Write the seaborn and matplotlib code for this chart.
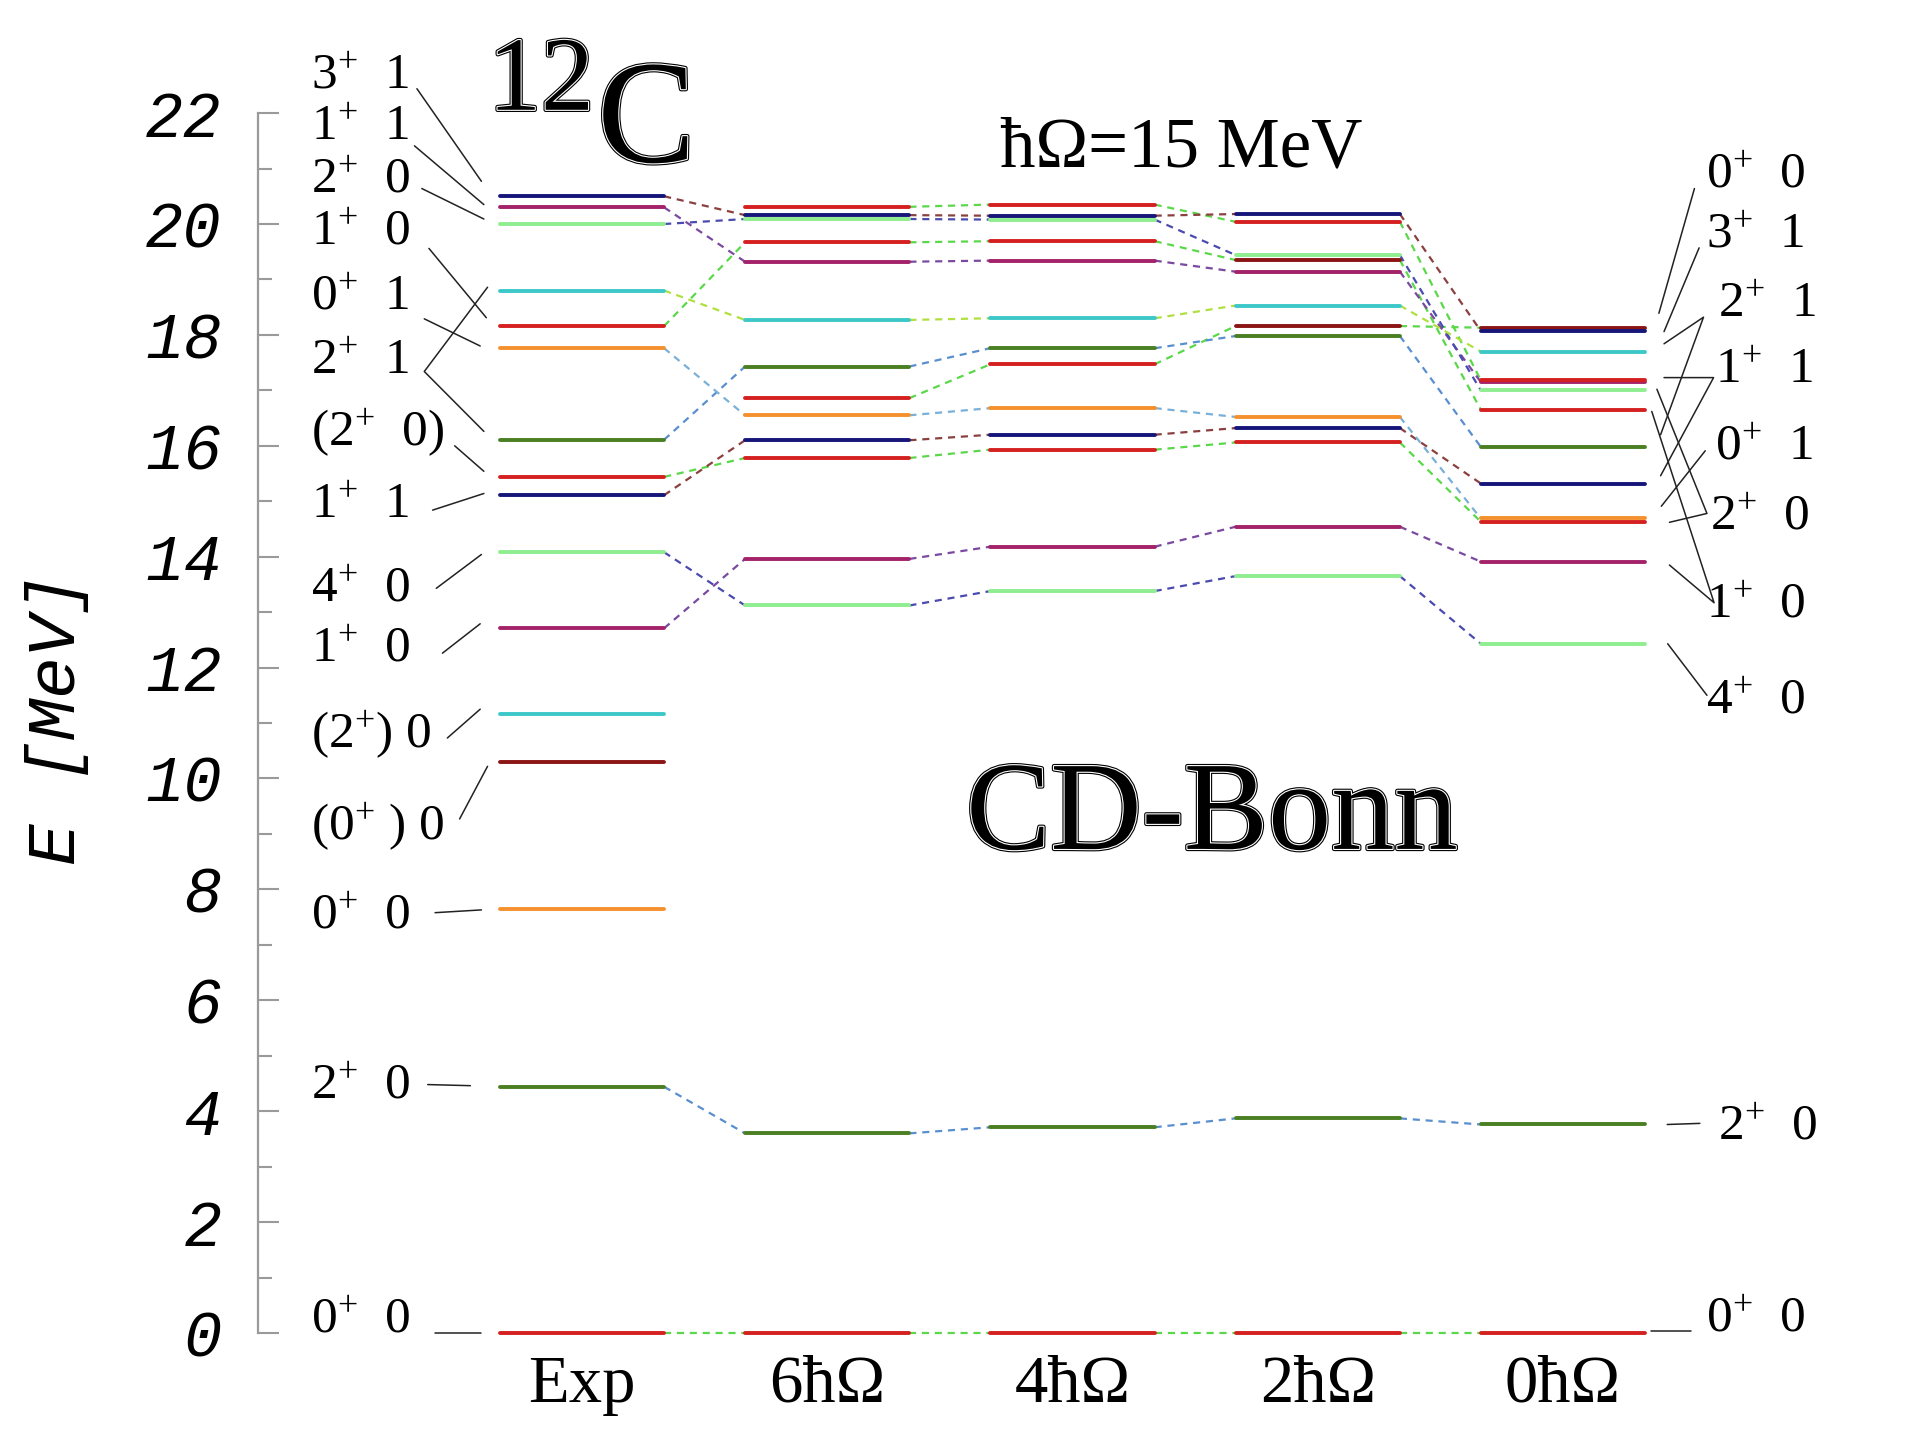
import numpy as np
import pandas as pd
import matplotlib
matplotlib.use("Agg")
import matplotlib.pyplot as plt
import matplotlib.patheffects as pe
from matplotlib.ticker import FixedLocator
import seaborn as sns

# ---------------- data ----------------
columns = ["Exp", "6ħΩ", "4ħΩ", "2ħΩ", "0ħΩ"]

# experimental levels (MeV) and their colour names
exp_E = [0.0, 4.44, 7.65, 10.3, 11.16, 12.71, 14.08, 15.11, 15.44, 16.11,
         17.76, 18.16, 18.8, 20.0, 20.3, 20.5]
exp_col = ["red", "dkgreen", "orange", "dkred", "cyan", "magenta", "lgreen", "navy",
           "red", "dkgreen", "orange", "red", "cyan", "lgreen", "magenta", "navy"]
# index of the calculated state each experimental level is linked to (-1: none)
exp_match = [0, 1, -1, -1, -1, 3, 2, 5, 4, 8, 6, 11, 9, 12, 10, 13]

# calculated levels, one entry per state (same order in every column)
th6_E = [0.0, 3.60, 13.12, 13.96, 15.78, 16.10, 16.55, 16.86, 17.43, 18.27,
         19.32, 19.67, 20.09, 20.16, 20.31]
th4_E = [0.0, 3.71, 13.38, 14.18, 15.93, 16.20, 16.68, 17.47, 17.76, 18.30,
         19.34, 19.69, 20.08, 20.15, 20.35]
th2_E = [0.0, 3.87, 13.65, 14.54, 16.06, 16.32, 16.52, 18.16, 17.98, 18.53,
         19.14, 19.35, 19.44, 20.18, 20.04]
th0_E = [0.0, 3.76, 12.43, 13.91, 14.63, 15.32, 14.69, 18.13, 15.98, 17.70,
         17.15, 16.65, 17.00, 18.07, 17.18]
th64_col = ["red", "dkgreen", "lgreen", "magenta", "red", "navy", "orange", "red",
            "dkgreen", "cyan", "magenta", "red", "lgreen", "navy", "red"]
th2_col = ["red", "dkgreen", "lgreen", "magenta", "red", "navy", "orange", "dkred",
           "dkgreen", "cyan", "magenta", "dkred", "lgreen", "navy", "red"]
th0_col = ["red", "dkgreen", "lgreen", "magenta", "red", "navy", "orange", "dkred",
           "dkgreen", "cyan", "magenta", "red", "lgreen", "navy", "red"]
# dashed-link colour of each calculated state
link_col = ["green", "steel", "blue", "purple", "green", "brown", "ltsteel", "green",
            "steel", "ygreen", "purple", "green", "blue", "brown", "green"]

left_labels = ["3$^{+}$  1", "1$^{+}$  1", "2$^{+}$  0", "1$^{+}$  0", "0$^{+}$  1",
               "2$^{+}$  1", "(2$^{+}$  0)", "1$^{+}$  1", "4$^{+}$  0", "1$^{+}$  0",
               "(2$^{+}$) 0", "(0$^{+}$ ) 0", "0$^{+}$  0", "2$^{+}$  0", "0$^{+}$  0"]
right_labels = ["0$^{+}$  0", "3$^{+}$  1", "2$^{+}$  1", "1$^{+}$  1", "0$^{+}$  1",
                "2$^{+}$  0", "1$^{+}$  0", "4$^{+}$  0", "2$^{+}$  0", "0$^{+}$  0"]
yticks = list(range(0, 23, 2))
yminor = list(range(1, 22, 2))

# ---------------- layout / style ----------------
level_pal = {"red": "#d42020", "dkred": "#8b1515", "navy": "#16167a",
             "lgreen": "#8fee8f", "dkgreen": "#4a7f22", "orange": "#f5902e",
             "cyan": "#3cc8c8", "magenta": "#a3226a"}
link_pal = {"green": "#5ad84a", "steel": "#5a8fcf", "blue": "#4a4ab0",
            "purple": "#7a4aa0", "brown": "#8b4040", "ltsteel": "#7ab0d8",
            "ygreen": "#b0e040"}
hw = 0.335  # half width of a level bar (column units)

left_label_x = -1.106
left_label_y = [22.77, 21.85, 20.90, 19.96, 18.78, 17.63, 16.34, 15.03, 13.52,
                12.44, 10.90, 9.23, 7.63, 4.55, 0.33]
left_leaders = [
    [(-0.673, 22.44), (-0.41, 20.77)],
    [(-0.683, 21.41), (-0.40, 20.35)],
    [(-0.653, 20.64), (-0.40, 20.09)],
    [(-0.624, 19.56), (-0.39, 18.31)],
    [(-0.643, 18.29), (-0.415, 17.80)],
    [(-0.385, 18.86), (-0.643, 17.34), (-0.40, 16.26)],
    [(-0.519, 16.00), (-0.40, 15.54)],
    [(-0.609, 14.84), (-0.40, 15.14)],
    [(-0.594, 13.43), (-0.41, 14.04)],
    [(-0.569, 12.26), (-0.415, 12.79)],
    [(-0.549, 10.73), (-0.415, 11.25)],
    [(-0.499, 9.27), (-0.385, 10.22)],
    [(-0.599, 7.58), (-0.41, 7.63)],
    [(-0.629, 4.48), (-0.455, 4.46)],
    [(-0.599, 0.00), (-0.41, 0.00)],
]
right_label_x = [4.584, 4.584, 4.634, 4.62, 4.62, 4.60, 4.584, 4.584, 4.634, 4.584]
right_label_y = [20.99, 19.90, 18.66, 17.46, 16.09, 14.82, 13.24, 11.50, 3.82, 0.35]
right_leaders = [
    [(4.536, 20.64), (4.391, 18.39)],
    [(4.555, 19.57), (4.412, 18.06)],
    [(4.412, 17.84), (4.573, 18.32), (4.398, 16.20)],
    [(4.412, 17.23), (4.614, 17.23), (4.398, 15.46)],
    [(4.383, 17.02), (4.587, 14.78), (4.434, 14.62)],
    [(4.362, 16.62), (4.616, 13.17), (4.434, 13.85)],
    [(4.580, 15.91), (4.401, 14.91)],
    [(4.427, 12.43), (4.587, 11.50)],
    [(4.425, 3.76), (4.558, 3.78)],
    [(4.36, 0.04), (4.52, 0.04)],
]

# ---------------- build tables ----------------
all_E = [exp_E, th6_E, th4_E, th2_E, th0_E]
all_C = [exp_col, th64_col, th64_col, th2_col, th0_col]
rows = []
for j, (E, C) in enumerate(zip(all_E, all_C)):
    for i, (e, c) in enumerate(zip(E, C)):
        if np.isnan(e):
            continue
        for x in (j - hw, j + hw):
            rows.append(dict(x=x, E=e, seg=f"{j}_{i}", color=c))
levels = pd.DataFrame(rows)

lrows = []
for k, m in enumerate(exp_match):
    if m < 0:
        continue
    lrows.append(dict(x=0 + hw, E=exp_E[k], seg=f"L0_{k}", color=link_col[m]))
    lrows.append(dict(x=1 - hw, E=th6_E[m], seg=f"L0_{k}", color=link_col[m]))
th_cols = [th6_E, th4_E, th2_E, th0_E]
for j in range(3):
    A, B = th_cols[j], th_cols[j + 1]
    for i in range(len(A)):
        if np.isnan(A[i]) or np.isnan(B[i]):
            continue
        lrows.append(dict(x=j + 1 + hw, E=A[i], seg=f"L{j+1}_{i}", color=link_col[i]))
        lrows.append(dict(x=j + 2 - hw, E=B[i], seg=f"L{j+1}_{i}", color=link_col[i]))
links = pd.DataFrame(lrows)

# ---------------- plot ----------------
sns.set_theme(style="white")
plt.rcParams["font.family"] = ["Liberation Serif", "DejaVu Serif"]
plt.rcParams["mathtext.fontset"] = "custom"
plt.rcParams["mathtext.rm"] = "Liberation Serif"
plt.rcParams["mathtext.it"] = "Liberation Serif:italic"
plt.rcParams["mathtext.default"] = "regular"

fig = plt.figure(figsize=(19.11, 14.35), dpi=100)
fig.patch.set_facecolor("white")
ax = fig.add_axes([258 / 1911, 0, 1 - 258 / 1911, 1])
ax.set_facecolor("white")

sns.lineplot(data=links, x="x", y="E", hue="color", units="seg", estimator=None,
             palette=link_pal, legend=False, sort=False, ax=ax,
             lw=1.6, linestyle=(0, (3.2, 2.6)))
sns.lineplot(data=levels, x="x", y="E", hue="color", units="seg", estimator=None,
             palette=level_pal, legend=False, sort=False, ax=ax, lw=2.8,
             hue_order=["magenta", "lgreen", "cyan", "dkgreen", "red", "dkred",
                        "navy", "orange"])

for pts in left_leaders + right_leaders:
    xs, ys = zip(*pts)
    ax.plot(xs, ys, color="#222222", lw=1.1)

lab_fs = 37
for t, y in zip(left_labels, left_label_y):
    ax.text(left_label_x, y - 0.33, t, ha="left", va="baseline", fontsize=lab_fs,
            color="black")
for t, x, y in zip(right_labels, right_label_x, right_label_y):
    ax.text(x, y - 0.33, t, ha="left", va="baseline", fontsize=lab_fs, color="black")

for j, name in enumerate(columns):
    ax.text(j, -1.24, name, ha="center", va="baseline", fontsize=48, color="black")

engr = [pe.Stroke(linewidth=3.2, foreground="black"),
        pe.Stroke(linewidth=1.6, foreground="white"), pe.Normal()]
ax.text(-0.167, 22.06, "12", ha="center", va="baseline", fontsize=76,
        color="black", path_effects=engr)
ax.text(0.262, 21.12, "C", ha="center", va="baseline", fontsize=106,
        color="black", path_effects=engr)
ax.text(2.442, 21.03, "ħΩ=15 MeV", ha="center", va="baseline", fontsize=51,
        color="black")
ax.text(2.568, 8.73, "CD-Bonn", ha="center", va="baseline", fontsize=91,
        color="black", path_effects=engr)

# axes
ax.set_xlim(-1.321, 5.419)
ax.set_ylim(-1.84, 24.04)
ax.set_xticks([])
ax.set_xlabel("")
ax.set_yticks(yticks)
ax.set_yticklabels([str(v) for v in yticks])
ax.yaxis.set_minor_locator(FixedLocator(yminor))
for s in ["top", "right", "bottom"]:
    ax.spines[s].set_visible(False)
ax.spines["left"].set_color("#9a9a9a")
ax.spines["left"].set_linewidth(1.6)
ax.spines["left"].set_bounds(0, 22)
ax.tick_params(axis="y", which="major", direction="in", length=15, width=1.5,
               color="#9a9a9a", pad=26, left=True)
ax.tick_params(axis="y", which="minor", direction="in", length=10, width=1.5,
               color="#9a9a9a", left=True)
for t in ax.get_yticklabels():
    t.set_fontfamily("Liberation Mono")
    t.set_fontstyle("italic")
    t.set_fontsize(46)
    t.set_color("black")
ax.set_ylabel("E [MeV]", fontfamily="Liberation Mono", fontstyle="italic",
              fontsize=50, color="black")
ax.yaxis.set_label_coords(-0.102, 0.499)
ax.grid(False)

fig.savefig("out.png", dpi=100, facecolor="white")
